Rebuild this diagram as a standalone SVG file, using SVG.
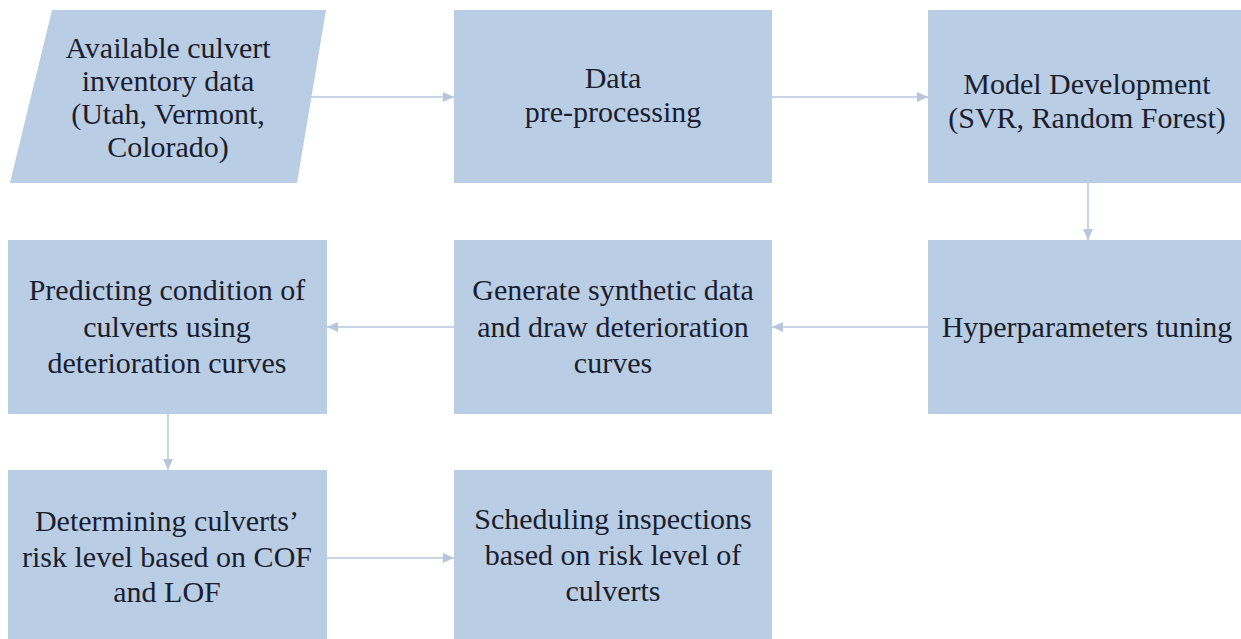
<svg xmlns="http://www.w3.org/2000/svg" width="1241" height="639" viewBox="0 0 1241 639">
  <style>
    .box { fill: #b9cde5; }
    .lbl { font-family: 'Liberation Serif', 'Times New Roman', serif; font-size: 30px; fill: #1b1e2e; text-anchor: middle; }
    .conn { stroke: #c9d5e4; stroke-width: 2; fill: none; marker-end: url(#ah); }
  </style>
  <defs>
    <marker id="ah" markerUnits="userSpaceOnUse" markerWidth="12" markerHeight="12" refX="11" refY="6" orient="auto">
      <path d="M0,1 L11,6 L0,11 Z" fill="#b7c7db"/>
    </marker>
  </defs>
  <rect width="1241" height="639" fill="#ffffff"/>

  <g id="connectors">
    <line class="conn" x1="311" y1="97" x2="454" y2="97"/>
    <line class="conn" x1="772" y1="97" x2="928" y2="97"/>
    <line class="conn" x1="1088" y1="183" x2="1088" y2="240"/>
    <line class="conn" x1="928" y1="327" x2="772" y2="327"/>
    <line class="conn" x1="454" y1="327" x2="327" y2="327"/>
    <line class="conn" x1="168" y1="414" x2="168" y2="470"/>
    <line class="conn" x1="327" y1="558" x2="454" y2="558"/>
  </g>

  <g id="node-inventory">
    <polygon class="box" points="52,10 326,10 297,183 10,183"/>
    <text class="lbl"><tspan x="168" y="58">Available culvert</tspan><tspan x="168" y="91">inventory data</tspan><tspan x="168" y="124">(Utah, Vermont,</tspan><tspan x="168" y="157">Colorado)</tspan></text>
  </g>

  <g id="node-preprocessing">
    <rect class="box" x="454" y="10" width="318" height="173"/>
    <text class="lbl"><tspan x="613" y="88">Data</tspan><tspan x="613" y="122">pre-processing</tspan></text>
  </g>

  <g id="node-model">
    <rect class="box" x="928" y="10" width="318" height="173"/>
    <text class="lbl"><tspan x="1087" y="94">Model Development</tspan><tspan x="1087" y="128">(SVR, Random Forest)</tspan></text>
  </g>

  <g id="node-hyper">
    <rect class="box" x="928" y="240" width="318" height="174"/>
    <text class="lbl" x="1087" y="337">Hyperparameters tuning</text>
  </g>

  <g id="node-generate">
    <rect class="box" x="454" y="240" width="318" height="174"/>
    <text class="lbl"><tspan x="613" y="300">Generate synthetic data</tspan><tspan x="613" y="337">and draw deterioration</tspan><tspan x="613" y="373">curves</tspan></text>
  </g>

  <g id="node-predicting">
    <rect class="box" x="8" y="240" width="319" height="174"/>
    <text class="lbl"><tspan x="167" y="300">Predicting condition of</tspan><tspan x="167" y="337">culverts using</tspan><tspan x="167" y="373">deterioration curves</tspan></text>
  </g>

  <g id="node-determining">
    <rect class="box" x="8" y="470" width="319" height="175"/>
    <text class="lbl"><tspan x="167" y="531">Determining culverts’</tspan><tspan x="167" y="567">risk level based on COF</tspan><tspan x="167" y="602">and LOF</tspan></text>
  </g>

  <g id="node-scheduling">
    <rect class="box" x="454" y="470" width="318" height="175"/>
    <text class="lbl"><tspan x="613" y="529">Scheduling inspections</tspan><tspan x="613" y="565">based on risk level of</tspan><tspan x="613" y="601">culverts</tspan></text>
  </g>
</svg>
